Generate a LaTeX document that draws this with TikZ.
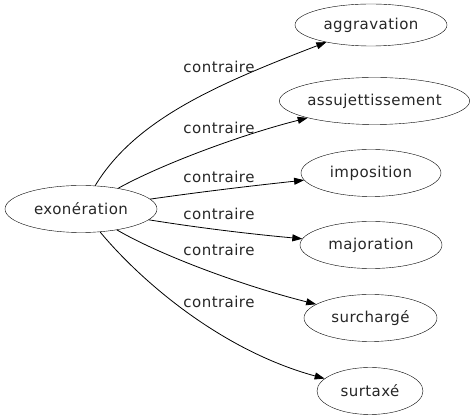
\documentclass[tikz,border=0pt]{standalone}
\usepackage{fontspec}
\usepackage{tikz}
\usetikzlibrary{shapes.geometric}
\usetikzlibrary{arrows.meta}
\newfontfamily\wordfont[LetterSpace=3]{DejaVu Sans}
\tikzset{
  term/.style={draw, ellipse, inner sep=0pt, minimum height=47pt, font=\wordfont\fontsize{15pt}{17pt}\selectfont, text=black!85},
  rel/.style={draw, line width=0.8pt, -{Triangle[length=10pt,width=7pt]}},
  tag/.style={font=\wordfont\fontsize{15pt}{17pt}\selectfont, text=black!85, inner sep=0pt}
}

\begin{document}
\begin{tikzpicture}[x=1pt, y=-1pt]
    \useasboundingbox (0,0) rectangle (475,419);
    %words
    \node[term, minimum width=152pt] (exo) at (81,209) {exonération};
    \node[term, minimum width=152pt, minimum height=42pt] (agg) at (371,25) {aggravation};
    \node[term, minimum width=183pt] (assu) at (374.5,101) {assujettissement};
    \node[term, minimum width=140pt] (impo) at (371,173) {imposition};
    \node[term, minimum width=142pt] (majo) at (371,245) {majoration};
    \node[term, minimum width=133pt] (surch) at (370.5,318) {surchargé};
    \node[term, minimum width=106pt] (surt) at (370,391) {surtaxé};
    %relations
    \draw[rel] (exo) .. controls (135,120) and (215,85) .. (agg);
    \draw[rel] (exo) .. controls (160,165) and (240,135) .. (assu);
    \draw[rel] (exo) .. controls (200,192) and (250,186) .. (impo);
    \draw[rel] (exo) .. controls (200,228) and (250,234) .. (majo);
    \draw[rel] (exo) .. controls (160,255) and (240,285) .. (surch);
    \draw[rel] (exo) .. controls (140,280) and (220,350) .. (surt);
    \foreach \y [count=\i] in {67,128,177,214,250,302}
        \node[tag] (lab\i) at (219,\y) {contraire};
\end{tikzpicture}
\end{document}
